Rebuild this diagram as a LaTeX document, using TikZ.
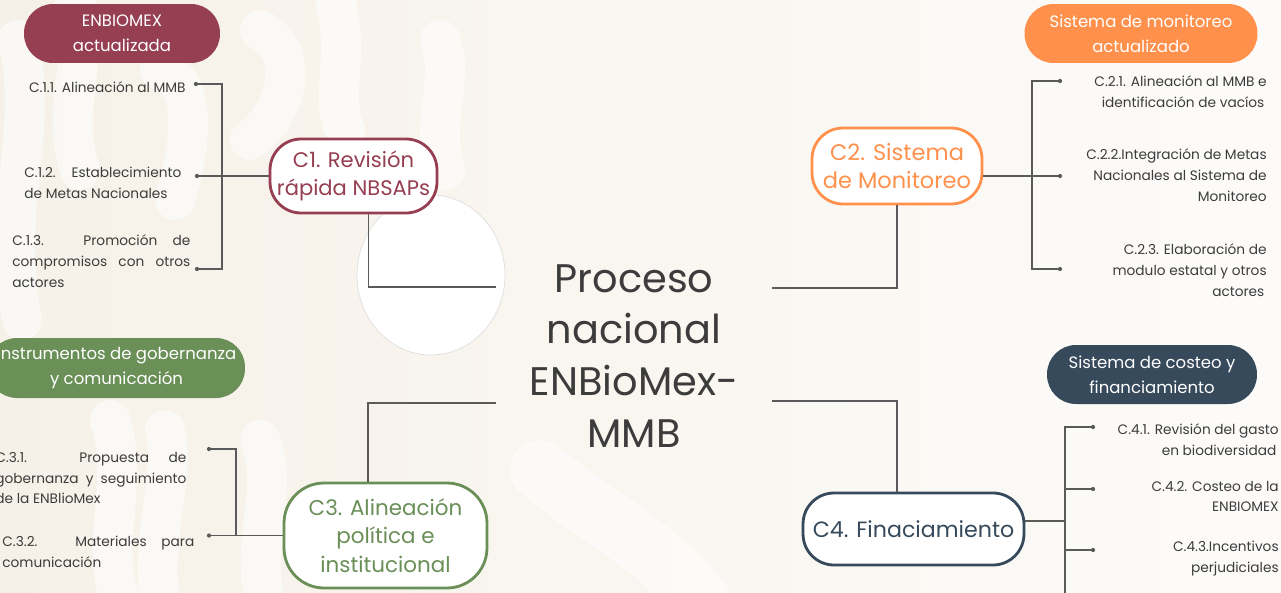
\documentclass[tikz,border=0pt]{standalone}
\usepackage{fontspec}
\setmainfont{Poppins}
\usetikzlibrary{positioning, calc}

\definecolor{vino}{HTML}{963E52}
\definecolor{naranja}{HTML}{FF914D}
\definecolor{verde}{HTML}{6A8F57}
\definecolor{marino}{HTML}{364A5B}
\definecolor{crema}{HTML}{F6F1E8}
\definecolor{texto}{HTML}{3C3C3C}
\definecolor{linea}{HTML}{5A5A5A}

\hyphenpenalty=10000
\tolerance=10000

\begin{document}
\begin{tikzpicture}[
        x=0.02cm, y=-0.02cm,
        pill/.style={rectangle, rounded corners=0.58cm, inner sep=0pt, minimum height=1.18cm, text=white, align=center, font=\fontsize{9.4}{14.2}\selectfont},
        comp/.style={rectangle, rounded corners=0.62cm, draw, line width=1.6pt, fill=white, inner sep=0pt, align=center},
        item/.style={inner sep=0pt, text=texto, font=\fontsize{7.8}{11.9}\selectfont},
        link/.style={draw=linea, line width=0.6pt},
        dot/.style={circle, fill=linea, inner sep=0pt, minimum size=2.4pt},
        band/.style={white, line cap=round, line width=0.8cm}
    ]
    \useasboundingbox (0,0) rectangle (1281,592);
    \clip (0,0) rectangle (1281,592);

    % fondo
    \shade[left color=crema, right color=crema!25!white] (0,0) rectangle (1281,592);
    \begin{scope}[opacity=0.55]
        \draw[band] (18,40) .. controls (40,130) and (0,210) .. (22,320);
        \draw[band] (75,0) .. controls (90,60) and (60,110) .. (80,170);
        \draw[band] (160,70) .. controls (200,80) and (190,150) .. (175,200);
        \draw[band] (260,30) .. controls (300,50) and (290,110) .. (250,140);
        \draw[band] (335,0) .. controls (350,50) and (330,100) .. (345,130);
        \draw[band] (440,40) .. controls (455,80) and (430,120) .. (445,170);
        \draw[band] (110,420) .. controls (130,480) and (100,540) .. (120,600);
        \draw[band] (165,430) .. controls (175,480) and (150,540) .. (160,600);
        \draw[band] (260,440) .. controls (280,490) and (250,540) .. (265,600);
        \draw[band, line width=1.2cm] (540,470) .. controls (600,520) and (650,540) .. (700,600);
    \end{scope}
    \draw[draw=gray!25, fill=white] (431,275) ellipse [x radius=1.48cm, y radius=1.6cm];

    % nodo central
    \node (cen) [text=texto, align=center, inner sep=0pt, minimum width=5.5cm, font=\fontsize{22.7}{29.5}\selectfont] at (634,356) {Proceso\\nacional\\ENBioMex-\\MMB};

    % componentes
    \node (c1) [comp, draw=vino, text=vino, minimum width=3.34cm, minimum height=1.48cm, font=\fontsize{12}{16.4}\selectfont] at (353.5,176) {C1. Revisión\\rápida NBSAPs};
    \node (c2) [comp, draw=naranja, text=naranja, minimum width=3.4cm, minimum height=1.52cm, font=\fontsize{12.8}{16.4}\selectfont] at (897,166) {C2. Sistema\\de Monitoreo};
    \node (c3) [comp, draw=verde, text=verde, rounded corners=0.8cm, minimum width=4.06cm, minimum height=2.1cm, font=\fontsize{12.2}{16.2}\selectfont] at (385.5,535.5) {C3. Alineación\\política e\\institucional};
    \node (c4) [comp, draw=marino, text=marino, minimum width=4.42cm, minimum height=1.44cm, font=\fontsize{12.6}{16}\selectfont] at (913.5,529) {C4. Finaciamiento};

    % resultados
    \node (p1) [pill, fill=vino, minimum width=3.92cm] at (122,33.5) {ENBIOMEX\\actualizada};
    \node (p2) [pill, fill=naranja, minimum width=4.66cm] at (1141,33.5) {Sistema de monitoreo\\actualizado};
    \node (p3) [pill, fill=verde, minimum width=5.14cm, minimum height=1.2cm] at (116.5,368) {Instrumentos de gobernanza\\y comunicación};
    \node (p4) [pill, fill=marino, minimum width=4.2cm] at (1152,374.5) {Sistema de costeo y\\financiamiento};

    % puntos y uniones
    \node (d11) [dot] at (196,84) {};
    \node (d12) [dot] at (197,176) {};
    \node (d13) [dot] at (197,269) {};
    \coordinate (j1) at (222,176);
    \node (d21) [dot] at (1060,81) {};
    \node (d22) [dot] at (1060,176) {};
    \node (d23) [dot] at (1060,269) {};
    \coordinate (j2) at (1032,176);
    \node (d31) [dot] at (209,449) {};
    \node (d32) [dot] at (209,535.5) {};
    \coordinate (j3) at (236,535.5);
    \node (d41) [dot] at (1093,427) {};
    \node (d42) [dot] at (1093,489) {};
    \node (d43) [dot] at (1093,550) {};
    \coordinate (j4) at (1065,521);
    \coordinate (e4) at (1065,600);

    % textos
    \node (t11) [item, anchor=east] at (186,87) {C.1.1. Alineación al MMB};
    \node (t12) [item, anchor=west, text width=3.14cm, align=justify] at (24,182.5) {C.1.2. Establecimiento\linebreak de Metas Nacionales};
    \node (t13) [item, anchor=west, text width=3.56cm, align=justify] at (12,261) {C.1.3. Promoción de\linebreak compromisos con otros\linebreak actores};
    \node (t21) [item, anchor=east, align=right] at (1267,91.5) {C.2.1. Alineación al MMB e\\identificación de vacíos\,};
    \node (t22) [item, anchor=east, align=right] at (1267,175) {C.2.2.Integración de Metas\\Nacionales al Sistema de\\Monitoreo};
    \node (t23) [item, anchor=east, align=right] at (1267,270) {C.2.3. Elaboración de\\modulo estatal y otros\\actores\,};
    \node (t31) [item, anchor=west, text width=3.82cm, align=justify] at (-5,478) {C.3.1. Propuesta de\linebreak gobernanza y seguimiento\linebreak de la ENBlioMex};
    \node (t32) [item, anchor=west, text width=3.84cm, align=justify] at (2,552) {C.3.2. Materiales para\linebreak comunicación};
    \node (t41) [item, anchor=east, align=right] at (1279,439.5) {C.4.1. Revisión del gasto\\en biodiversidad\,};
    \node (t42) [item, anchor=east, align=right] at (1279,496.5) {C.4.2. Costeo de la\\ENBIOMEX};
    \node (t43) [item, anchor=east, align=right] at (1279,558.5) {C.4.3.Incentivos\\perjudiciales};

    % conectores
    \draw [link] ($(c1.south)+(15,0)$) |- ($(cen.west)+(0,-69)$);
    \draw [link] ($(cen.east)+(0,-68)$) -| (c2.south);
    \draw [link] ($(cen.west)+(0,47)$) -| ($(c3.north)+(-17.5,0)$);
    \draw [link] ($(cen.east)+(0,45)$) -| ($(c4.north)+(-16.5,0)$);

    \draw [link] (c1.west) -- (d12);
    \draw [link] (d11) -| (j1) |- (d13);
    \draw [link] ($(c2.east)+(0,10)$) -- (d22);
    \draw [link] (d21) -| (j2) |- (d23);
    \draw [link] (c3.west) -- (d32);
    \draw [link] (d31) -| (j3);
    \draw [link] ($(c4.east)+(0,-8)$) -- (j4);
    \draw [link] (d41) -| (e4);
    \draw [link] (d42 -| j4) -- (d42);
    \draw [link] (d43 -| j4) -- (d43);

\end{tikzpicture}
\end{document}
